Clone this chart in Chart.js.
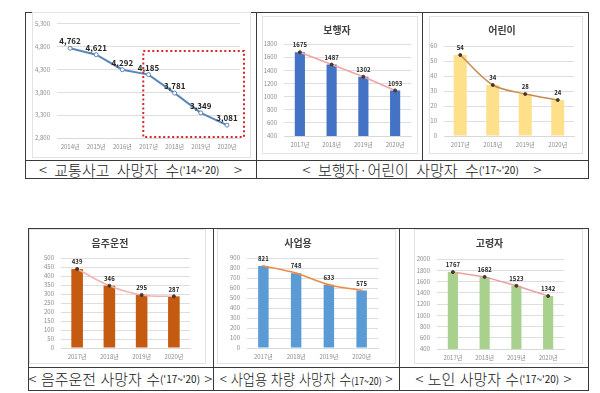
<!DOCTYPE html>
<html>
<head>
<meta charset="utf-8">
<script src="https://cdn.jsdelivr.net/npm/chart.js@4.4.1/dist/chart.umd.min.js"></script>
<style>
  body { margin: 0; background: #fff; width: 600px; height: 393px; position: relative; overflow: hidden;
         font-family: "Noto Sans CJK KR", sans-serif; }
  .rule { position: absolute; background: #3a3a3a; }
  .cap { position: absolute; display: flex; align-items: center; justify-content: center;
         white-space: nowrap; color: #1a1a1a; font-size: 15px; word-spacing: 4px; font-weight: 300; }
  .cap.big { font-size: 15px; word-spacing: 1px; }
  .cap .squeeze { display: inline-block; transform: scaleX(0.88); }
  .cap small { font-size: 10px; word-spacing: 0; letter-spacing: 0; font-weight: 400; }
  .chart { position: absolute; outline: 1px solid #e3e3e3; }
</style>
</head>
<body>

<div id="frame"></div>

<div class="cap" style="left:25px;top:160px;width:231px;height:18px;">&lt; 교통사고 사망자 수<small>('14~'20)</small>&nbsp; &gt;</div>
<div class="cap" style="left:256px;top:160px;width:332px;height:18px;">&lt; 보행자·어린이 사망자 수<small>('17~'20)</small>&nbsp; &gt;</div>
<div class="cap big" style="left:28px;top:367px;width:185px;height:23px;">&lt; 음주운전 사망자 수<small>('17~'20)</small>&nbsp;&gt;</div>
<div class="cap big" style="left:213px;top:367px;width:186px;height:23px;"><span class="squeeze">&lt; 사업용 차량 사망자 수<small>(17~20)</small>&nbsp;&gt;</span></div>
<div class="cap big" style="left:399px;top:367px;width:189px;height:23px;">&lt; 노인 사망자 수<small>('17~'20)</small>&nbsp;&gt;</div>

<script>
// 데이터
const yearsLong = ['2014년', '2015년', '2016년', '2017년', '2018년', '2019년', '2020년'];
const yearsShort = ['2017년', '2018년', '2019년', '2020년'];

const totalDeaths = [4762, 4621, 4292, 4185, 3781, 3349, 3081];
const pedestrian = [1675, 1487, 1302, 1093];
const children = [54, 34, 28, 24];
const drunkDriving = [439, 346, 295, 287];
const commercial = [821, 748, 633, 575];
const elderly = [1767, 1682, 1523, 1342];

// 축 눈금
const totalTicks = [2800, 3300, 3800, 4300, 4800, 5300];
const pedestrianTicks = [400, 600, 800, 1000, 1200, 1400, 1600, 1800];
const childrenTicks = [0, 10, 20, 30, 40, 50, 60];
const drunkTicks = [0, 50, 100, 150, 200, 250, 300, 350, 400, 450, 500];
const commercialTicks = [0, 100, 200, 300, 400, 500, 600, 700, 800, 900];
const elderlyTicks = [400, 600, 800, 1000, 1200, 1400, 1600, 1800, 2000];

// 표 테두리 그리기
const frame = document.getElementById('frame');
function rule(x, y, w, h) {
  const d = document.createElement('div');
  d.className = 'rule';
  d.style.cssText = `left:${x}px;top:${y}px;width:${w}px;height:${h}px;`;
  frame.appendChild(d);
}
// 위쪽 표
rule(25, 12, 564, 1); rule(25, 160, 564, 1); rule(25, 178, 564, 1);
rule(25, 12, 1, 167); rule(588, 12, 1, 167);
rule(256, 12, 1, 167); rule(422, 12, 1, 148);
// 아래쪽 표
rule(28, 228, 561, 1); rule(28, 367, 561, 1); rule(28, 390, 561, 1);
rule(28, 228, 1, 163); rule(588, 228, 1, 163);
rule(213, 228, 1, 163); rule(399, 228, 1, 163);

// 값 라벨 플러그인
const valueLabels = {
  id: 'valueLabels',
  afterDatasetsDraw(chart, args, o) {
    const ctx = chart.ctx;
    const meta = chart.getDatasetMeta(o.dataset);
    const vals = chart.data.datasets[o.dataset].data;
    ctx.save();
    ctx.font = o.font;
    ctx.fillStyle = '#262626';
    ctx.textAlign = 'center';
    ctx.textBaseline = 'bottom';
    meta.data.forEach((el, i) => {
      const txt = o.comma ? vals[i].toLocaleString('en-US') : String(vals[i]);
      ctx.fillText(txt, el.x, el.y - o.gap);
    });
    ctx.restore();
  }
};

// 빨간 점선 박스 (2017~2020 구간)
const dottedBox = {
  id: 'dottedBox',
  afterDraw(chart) {
    const x = chart.scales.x, y = chart.scales.y, a = chart.chartArea;
    const step = x.getPixelForValue(1) - x.getPixelForValue(0);
    const left = x.getPixelForValue(3) - step * 0.2;
    const top = y.getPixelForValue(4700);
    const ctx = chart.ctx;
    ctx.save();
    ctx.strokeStyle = '#d9262b';
    ctx.lineWidth = 2;
    ctx.setLineDash([2, 2.5]);
    ctx.strokeRect(left, top, a.right + 4 - left, a.bottom - 1 - top);
    ctx.restore();
  }
};

function makeCanvas(box) {
  const wrap = document.createElement('div');
  wrap.className = 'chart';
  wrap.style.cssText = `left:${box.x}px;top:${box.y}px;width:${box.w}px;height:${box.h}px;`;
  const c = document.createElement('canvas');
  wrap.appendChild(c);
  document.body.appendChild(wrap);
  return c;
}

const tickFont = { family: 'Noto Sans CJK KR', size: 6 };

function axes(box, plot, ticks, yFmt) {
  return {
    x: {
      offset: true,
      grid: { display: false, drawTicks: false },
      border: { color: '#d9d9d9' },
      ticks: { color: '#8c8c8c', font: tickFont, padding: 5, maxRotation: 0, autoSkip: false },
      afterFit: s => { s.height = box.y + box.h - plot.b; }
    },
    y: {
      min: ticks[0],
      max: ticks[ticks.length - 1],
      grid: { color: '#dedede', drawTicks: false },
      border: { display: false },
      ticks: { stepSize: ticks[1] - ticks[0], color: '#8c8c8c', font: tickFont, padding: 7,
               autoSkip: false, callback: yFmt },
      afterFit: s => { s.width = plot.l - box.x; }
    }
  };
}

// 교통사고 사망자 수 (꺾은선)
(function () {
  const box = { x: 33, y: 13, w: 217, h: 144 };
  const plot = { l: 57, t: 21, r: 240, b: 138 };
  new Chart(makeCanvas(box), {
    type: 'line',
    data: {
      labels: yearsLong,
      datasets: [{
        data: totalDeaths,
        borderColor: '#5b87b8',
        borderWidth: 2,
        pointRadius: 2,
        pointBackgroundColor: '#ffffff',
        pointBorderColor: '#5b87b8',
        pointBorderWidth: 1,
        tension: 0
      }]
    },
    options: {
      responsive: true,
      maintainAspectRatio: false,
      animation: false,
      layout: { padding: { top: plot.t - box.y, right: box.x + box.w - plot.r, left: 0, bottom: 0 } },
      plugins: {
        legend: { display: false },
        tooltip: { enabled: false },
        valueLabels: { dataset: 0, font: 'bold 8px "Noto Sans CJK KR"', gap: 3, comma: true }
      },
      scales: axes(box, plot, totalTicks, v => v.toLocaleString('en-US'))
    },
    plugins: [valueLabels, dottedBox]
  });
})();

// 막대 + 꺾은선 차트
function barChart(title, values, ticks, barColor, lineColor, barPct, tension, box, plot, titleY, pointStyle) {
  new Chart(makeCanvas(box), {
    type: 'bar',
    data: {
      labels: yearsShort,
      datasets: [
        {
          type: 'bar',
          data: values,
          backgroundColor: barColor,
          categoryPercentage: 1,
          barPercentage: barPct,
          order: 2
        },
        {
          type: 'line',
          data: values,
          borderColor: lineColor,
          borderWidth: 1.5,
          tension: tension,
          pointStyle: pointStyle || 'circle',
          pointRadius: 1.5,
          pointBackgroundColor: '#4a3628',
          pointBorderColor: pointStyle ? lineColor : '#4a3628',
          pointBorderWidth: 1,
          order: 1
        }
      ]
    },
    options: {
      responsive: true,
      maintainAspectRatio: false,
      animation: false,
      layout: { padding: { top: 0, right: box.x + box.w - plot.r, left: 0, bottom: 0 } },
      plugins: {
        legend: { display: false },
        tooltip: { enabled: false },
        title: {
          display: true,
          text: title,
          color: '#404040',
          font: { family: 'Noto Sans CJK KR', size: 10, weight: 'bold', lineHeight: 1.2 },
          padding: { top: titleY - 6 - box.y, bottom: plot.t - (titleY + 6) }
        },
        valueLabels: { dataset: 0, font: 'bold 6px "Noto Sans CJK KR"', gap: 4, comma: false }
      },
      scales: axes(box, plot, ticks, v => String(v))
    },
    plugins: [valueLabels]
  });
}

barChart('보행자', pedestrian, pedestrianTicks, '#4472c4', '#f2a3a3', 0.32, 0,
  { x: 263, y: 17, w: 154, h: 136 }, { l: 284, t: 44, r: 411, b: 136 }, 30);
barChart('어린이', children, childrenTicks, '#ffe08a', '#c58a4c', 0.4, 0.3,
  { x: 430, y: 17, w: 152, h: 136 }, { l: 444, t: 46, r: 574, b: 136 }, 30);
barChart('음주운전', drunkDriving, drunkTicks, '#c55a11', '#f2b2b2', 0.36, 0.35,
  { x: 30, y: 230, w: 175, h: 133 }, { l: 61, t: 258, r: 190, b: 348 }, 243);
barChart('사업용', commercial, commercialTicks, '#5b9bd5', '#ed8c45', 0.32, 0.3,
  { x: 218, y: 230, w: 177, h: 133 }, { l: 247, t: 258, r: 378, b: 348 }, 243, 'crossRot');
barChart('고령자', elderly, elderlyTicks, '#a9d18e', '#eaa0a0', 0.32, 0,
  { x: 415, y: 230, w: 167, h: 133 }, { l: 437, t: 259, r: 564, b: 349 }, 243);
</script>
</body>
</html>
